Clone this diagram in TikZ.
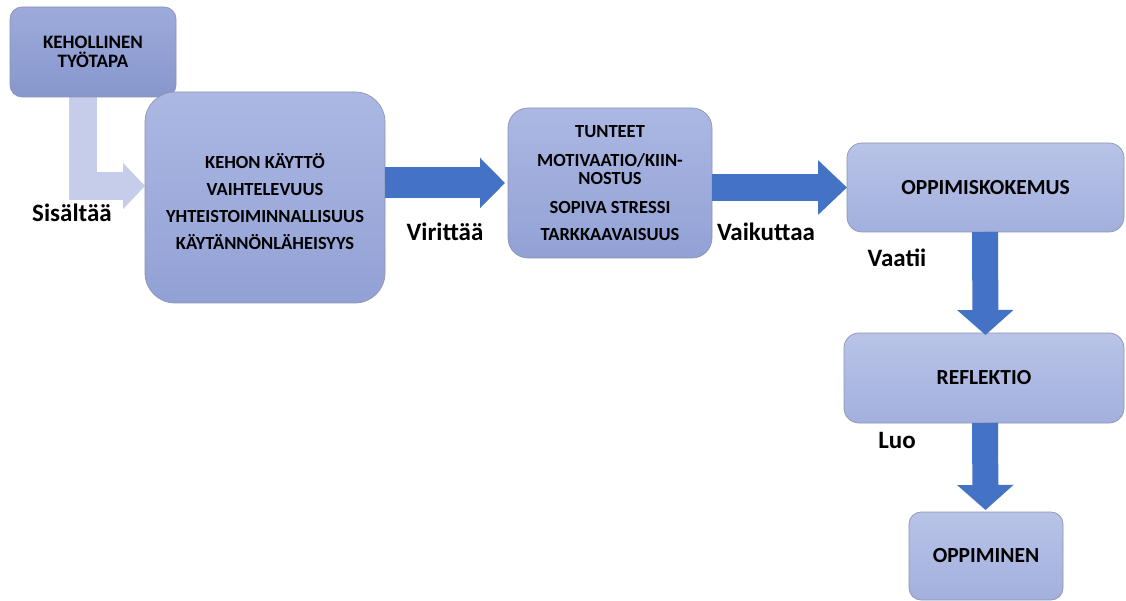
\documentclass[tikz,border=0pt]{standalone}
\usepackage{fontspec}
\setmainfont{Carlito}
\usetikzlibrary{arrows.meta,backgrounds,calc}
\definecolor{arrowblue}{HTML}{4472C4}
\definecolor{lightarrow}{HTML}{C5CDEA}
\definecolor{boxline}{HTML}{8C95B3}
\definecolor{topA}{HTML}{9DAADB}
\definecolor{botA}{HTML}{8797CD}
\definecolor{topB}{HTML}{ACB8E3}
\definecolor{botB}{HTML}{92A1D5}
\definecolor{topC}{HTML}{B9C3E8}
\definecolor{botC}{HTML}{A2B0DD}
\tikzset{
  box/.style={draw=boxline, line width=0.7pt, inner sep=0pt, outer sep=0pt, align=center, text=black},
  boxA/.style={box, top color=topA, bottom color=botA},
  boxB/.style={box, top color=topB, bottom color=botB},
  boxC/.style={box, top color=topC, bottom color=botC, font=\fontsize{21.5}{24}\selectfont\bfseries},
  lbl/.style={font=\fontsize{25}{28}\selectfont\bfseries, text=black, inner sep=0pt},
  bigarrow/.style={draw=arrowblue, line width=31pt, -{Triangle[length=25pt,width=49pt]}},
  smallarrow/.style={draw=arrowblue, line width=27pt, -{Triangle[length=29pt,width=53pt]}},
  downarrow/.style={draw=arrowblue, line width=26pt, -{Triangle[length=25pt,width=55pt]}},
  lightarr/.style={draw=lightarrow, line width=28pt, line join=miter, -{Triangle[length=22pt,width=45pt]}},
}
\begin{document}
\begin{tikzpicture}[x=1pt,y=-1pt]
\useasboundingbox (0,0) rectangle (1126,601);
\clip (0,0) rectangle (1126,601);

\node[boxA, rounded corners=12pt, minimum width=166pt, minimum height=90pt,
  font=\fontsize{19}{19}\selectfont\bfseries] (b1) at (93,52)
  {KEHOLLINEN\\TYÖTAPA};
\node[boxB, rounded corners=30pt, minimum width=240pt, minimum height=211pt,
  font=\fontsize{18.5}{27}\selectfont\bfseries] (b2) at (265,197.5)
  {\rule{0pt}{23pt}KEHON KÄYTTÖ\\VAIHTELEVUUS\\YHTEISTOIMINNALLISUUS\\KÄYTÄNNÖNLÄHEISYYS};
\node[boxB, rounded corners=20pt, minimum width=204pt, minimum height=150pt,
  font=\fontsize{18.5}{18}\selectfont\bfseries] (b3) at (610,183)
  {TUNTEET\\[11pt]MOTIVAATIO/KIIN-\\NOSTUS\\[11pt]SOPIVA STRESSI\\[9pt]TARKKAAVAISUUS};
\node[boxC, rounded corners=15pt, minimum width=277pt, minimum height=89pt] (b4) at (985.5,187.5)
  {OPPIMISKOKEMUS};
\node[boxC, rounded corners=15pt, minimum width=280pt, minimum height=90pt] (b5) at (984,378)
  {REFLEKTIO};
\node[boxC, rounded corners=12pt, minimum width=154pt, minimum height=88pt] (b6) at (986,556)
  {OPPIMINEN};

\begin{scope}[on background layer]
  \fill[white] (0,0) rectangle (1126,601);
  \draw[lightarr] ([xshift=-10pt]b1.south) |- (b2.west |- 0,186);
\end{scope}
\draw[bigarrow] (b2.east |- b3.west) -- ([xshift=-3pt]b3.west);
\draw[smallarrow] (b3.east |- b4.west) -- (b4.west);
\draw[downarrow] ([xshift=-0.5pt]b4.south) -- ([yshift=-2pt]b5.north -| b4.south);
\draw[downarrow] ([xshift=-0.5pt]b5.south -| b4.south) -- ([yshift=2pt]b6.north -| b4.south);

\node[lbl] (l1) at (72,213) {Sisältää};
\node[lbl] (l2) at (445,232) {Virittää};
\node[lbl] (l3) at (766,232) {Vaikuttaa};
\node[lbl] (l4) at (897,258) {Vaatii};
\node[lbl] (l5) at (897,440) {Luo};
\end{tikzpicture}
\end{document}
